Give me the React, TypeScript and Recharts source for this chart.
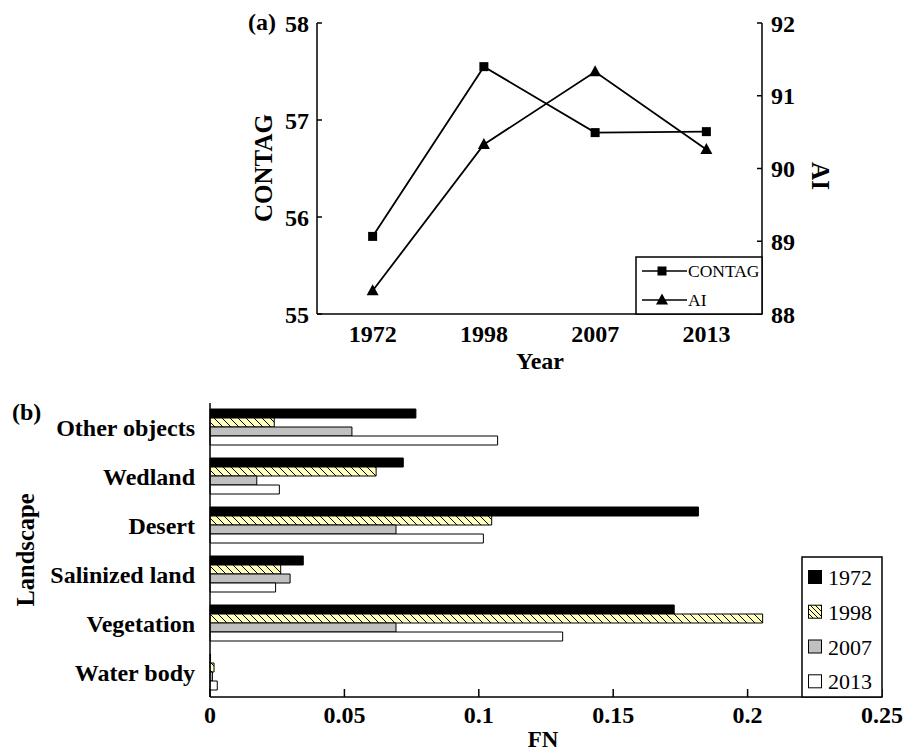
import React from "react";
import { Bar, BarChart, ComposedChart, Line, XAxis, YAxis } from "recharts";

// (a) landscape-level metrics
const YEARS = ["1972", "1998", "2007", "2013"];
const CONTAG = [55.8, 57.55, 56.87, 56.88];
const AI = [88.32, 90.33, 91.33, 90.26];
const CONTAG_TICKS = [55, 56, 57, 58];
const AI_TICKS = [88, 89, 90, 91, 92];

// (b) FN per landscape type
const LANDSCAPES = ["Other objects", "Wedland", "Desert", "Salinized land", "Vegetation", "Water body"];
const FN_1972 = [0.0766, 0.0719, 0.1817, 0.0347, 0.1727, 0.0002];
const FN_1998 = [0.0239, 0.0618, 0.1048, 0.0263, 0.2056, 0.0015];
const FN_2007 = [0.0528, 0.0174, 0.0692, 0.0298, 0.0692, 0.0009];
const FN_2013 = [0.107, 0.0258, 0.1017, 0.0244, 0.1312, 0.0027];
const FN_TICKS = [0, 0.05, 0.1, 0.15, 0.2, 0.25];

const SERIF = '"Liberation Serif", "Times New Roman", serif';
const HATCH_BG = "#ffffc0";
const GREY = "#c0c0c0";

const lineRows = YEARS.map((year, i) => ({ year, contag: CONTAG[i], ai: AI[i] }));
const barRows = LANDSCAPES.map((name, i) => ({
  name,
  y1972: FN_1972[i],
  y1998: FN_1998[i],
  y2007: FN_2007[i],
  y2013: FN_2013[i],
}));

const tickFont = { fill: "#000", fontSize: 24, fontWeight: 700, fontFamily: SERIF };
const axisStroke = { stroke: "#000", strokeWidth: 1.5 };

function SquareDot(p: any) {
  if (p.cx == null || p.cy == null) return <g key={`s-${p.index}`} />;
  return <rect key={`s-${p.index}`} x={p.cx - 4.5} y={p.cy - 4.5} width={9} height={9} fill="#000" />;
}

function TriangleDot(p: any) {
  if (p.cx == null || p.cy == null) return <g key={`t-${p.index}`} />;
  const { cx, cy } = p;
  return (
    <polygon
      key={`t-${p.index}`}
      points={`${cx},${cy - 6.5} ${cx - 6},${cy + 4.5} ${cx + 6},${cy + 4.5}`}
      fill="#000"
    />
  );
}

const bold = { fontFamily: SERIF, fontWeight: 700, fill: "#000" } as const;
const LEGEND_B = [
  { label: "1972", fill: "#000" },
  { label: "1998", fill: "url(#hatchLegend)" },
  { label: "2007", fill: GREY },
  { label: "2013", fill: "#fff" },
];

function Overlay() {
  const rowsB = [577, 611.7, 646.5, 681.3];
  return (
    <svg width={913} height={752} style={{ position: "absolute", left: 0, top: 0, pointerEvents: "none" }}>
      <defs>
        <pattern id="hatchLegend" width={5} height={5} patternUnits="userSpaceOnUse">
          <rect width={5} height={5} fill={HATCH_BG} />
          <path d="M-1,-1 L6,6" stroke="#000" strokeWidth={1} />
        </pattern>
      </defs>
      <text x={248} y={30} fontSize={24} {...bold}>(a)</text>
      <text transform="translate(272,168) rotate(-90)" textAnchor="middle" fontSize={25} {...bold}>CONTAG</text>
      <text transform="translate(812,176) rotate(90)" textAnchor="middle" fontSize={25} {...bold}>AI</text>
      <text x={540} y={369} textAnchor="middle" fontSize={24} {...bold}>Year</text>

      <text x={12} y={420} fontSize={24} {...bold}>(b)</text>
      <text transform="translate(34,550) rotate(-90)" textAnchor="middle" fontSize={24.5} {...bold}>Landscape</text>
      <text x={543} y={747} textAnchor="middle" fontSize={23} {...bold}>FN</text>

      {/* legend (a) */}
      <rect x={636} y={257} width={126} height={57} fill="#fff" stroke="#000" strokeWidth={1.5} />
      <line x1={642} x2={687} y1={271} y2={271} stroke="#000" strokeWidth={1.5} />
      <rect x={657.5} y={266.5} width={9} height={9} fill="#000" />
      <text x={688} y={277} fontSize={17.5} fontFamily={SERIF} fill="#000">CONTAG</text>
      <line x1={642} x2={687} y1={300} y2={300} stroke="#000" strokeWidth={1.5} />
      <polygon points="662,293.5 656,304.5 668,304.5" fill="#000" />
      <text x={688} y={306} fontSize={17.5} fontFamily={SERIF} fill="#000">AI</text>

      {/* legend (b) */}
      <rect x={802} y={557} width={80} height={140} fill="#fff" stroke="#000" strokeWidth={1.5} />
      {LEGEND_B.map((e, i) => (
        <g key={e.label}>
          <rect x={808.5} y={rowsB[i] - 6.5} width={13} height={13} fill={e.fill} stroke="#000" strokeWidth={1} />
          <text x={828} y={rowsB[i] + 8} fontSize={22} fontFamily={SERIF} fill="#000">{e.label}</text>
        </g>
      ))}
    </svg>
  );
}

export default function App() {
  return (
    <div style={{ position: "relative", width: 913, height: 752, background: "#fff" }}>
      <style>{"body{margin:0}"}</style>
      <div style={{ position: "absolute", left: 0, top: 0 }}>
        <ComposedChart width={913} height={380} data={lineRows} margin={{ top: 23, right: 91, bottom: 36, left: 257 }}>
          <XAxis
            xAxisId="grid"
            type="number"
            domain={[0, 4]}
            ticks={[1, 2, 3]}
            interval={0}
            mirror
            height={0}
            tick={false}
            axisLine={false}
            tickSize={6}
            tickLine={axisStroke}
          />
          <XAxis
            xAxisId="yr"
            dataKey="year"
            type="category"
            scale="band"
            height={30}
            interval={0}
            tickLine={false}
            tickSize={6}
            tickMargin={5}
            axisLine={axisStroke}
            tick={tickFont}
          />
          <XAxis
            xAxisId="top"
            orientation="top"
            type="number"
            domain={[0, 4]}
            mirror
            height={0}
            tick={false}
            tickLine={false}
            axisLine={axisStroke}
          />
          <YAxis
            yAxisId="contag"
            type="number"
            domain={[55, 58]}
            ticks={CONTAG_TICKS}
            interval={0}
            width={60}
            tickSize={-5}
            tickMargin={13}
            axisLine={axisStroke}
            tickLine={axisStroke}
            tick={tickFont}
          />
          <YAxis
            yAxisId="ai"
            orientation="right"
            type="number"
            domain={[88, 92]}
            ticks={AI_TICKS}
            interval={0}
            width={60}
            tickSize={-5}
            tickMargin={14}
            axisLine={axisStroke}
            tickLine={axisStroke}
            tick={tickFont}
          />
          <Line
            xAxisId="yr"
            yAxisId="contag"
            dataKey="contag"
            stroke="#000"
            strokeWidth={1.8}
            dot={SquareDot}
            activeDot={false}
            isAnimationActive={false}
          />
          <Line
            xAxisId="yr"
            yAxisId="ai"
            dataKey="ai"
            stroke="#000"
            strokeWidth={1.8}
            dot={TriangleDot}
            activeDot={false}
            isAnimationActive={false}
          />
        </ComposedChart>
      </div>

      <div style={{ position: "absolute", left: 0, top: 380 }}>
        <BarChart
          layout="vertical"
          width={913}
          height={372}
          data={barRows}
          margin={{ top: 23, right: 31, bottom: 15, left: 10 }}
          barCategoryGap={6}
          barGap={0}
        >
          <defs>
            <pattern id="hatch98" width={8} height={8} patternUnits="userSpaceOnUse">
              <rect width={8} height={8} fill={HATCH_BG} />
              <path d="M-2,-2 L10,10" stroke="#000" strokeWidth={1} />
            </pattern>
          </defs>
          <YAxis
            yAxisId="grid"
            type="number"
            domain={[0, 6]}
            ticks={[1, 2, 3, 4, 5]}
            interval={0}
            mirror
            width={0}
            tick={false}
            axisLine={false}
            tickSize={8}
            tickLine={axisStroke}
          />
          <YAxis
            dataKey="name"
            type="category"
            width={200}
            interval={0}
            tickLine={false}
            tickSize={6}
            tickMargin={9}
            axisLine={axisStroke}
            tick={tickFont}
          />
          <YAxis
            yAxisId="right"
            orientation="right"
            type="number"
            domain={[0, 6]}
            mirror
            width={0}
            tick={false}
            tickLine={false}
            axisLine={axisStroke}
          />
          <XAxis
            type="number"
            domain={[0, 0.25]}
            ticks={FN_TICKS}
            interval={0}
            height={40}
            tickSize={-8}
            tickMargin={17}
            axisLine={axisStroke}
            tickLine={axisStroke}
            tick={tickFont}
          />
          <XAxis
            xAxisId="top"
            orientation="top"
            type="number"
            domain={[0, 0.25]}
            mirror
            height={0}
            tick={false}
            tickLine={false}
            axisLine={axisStroke}
          />
          <Bar dataKey="y1972" fill="#000" stroke="#000" strokeWidth={1} isAnimationActive={false} />
          <Bar dataKey="y1998" fill="url(#hatch98)" stroke="#000" strokeWidth={1} isAnimationActive={false} />
          <Bar dataKey="y2007" fill={GREY} stroke="#000" strokeWidth={1} isAnimationActive={false} />
          <Bar dataKey="y2013" fill="#fff" stroke="#000" strokeWidth={1} isAnimationActive={false} />
        </BarChart>
      </div>
      <Overlay />
    </div>
  );
}
